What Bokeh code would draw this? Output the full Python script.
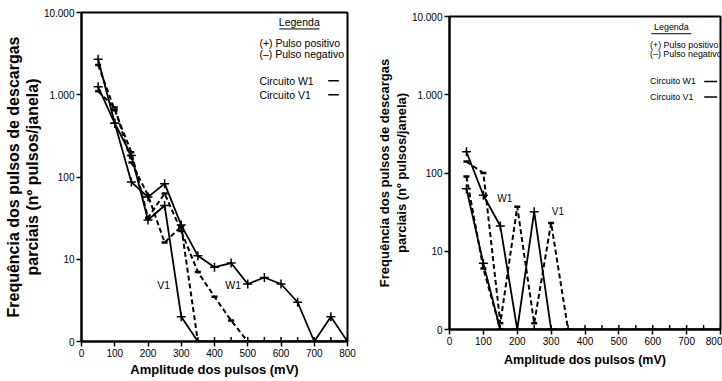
from bokeh.plotting import figure
from bokeh.models import FixedTicker, Label, Range1d
from bokeh.embed import file_html
from bokeh.resources import INLINE

FONT = "Liberation Sans"

# ---------------- data ----------------
amp = [50, 100, 150, 200, 250, 300, 350, 400, 450, 500, 550, 600, 650, 700, 750, 800]

# left panel
left_w1_pos_x = amp
left_w1_pos = [2700, 450, 87, 57, 83, 26, 11, 8, 9, 5, 6, 5, 3, 0, 2, 0]
left_v1_pos_x = amp
left_v1_pos = [1250, 450, 182, 30, 45, 2, 0, 0, 0, 0, 0, 0, 0, 0, 0, 0]
left_w1_neg_x = [50, 100, 150, 200, 250, 300, 350, 400, 450, 500]
left_w1_neg = [2300, 650, 200, 32, 63, 22, 7, 3.5, 1.8, 0]
left_v1_neg_x = [50, 100, 150, 200, 250, 300, 350]
left_v1_neg = [1100, 700, 150, 60, 16, 25, 0]

# right panel
right_w1_pos_x = [50, 100, 150, 200, 250, 300]
right_w1_pos = [187, 52, 21, 0, 32, 0]
right_v1_pos_x = amp
right_v1_pos = [63, 7, 0, 0, 0, 0, 0, 0, 0, 0, 0, 0, 0, 0, 0, 0]
right_w1_neg_x = [50, 100, 150, 200, 250, 300, 350]
right_w1_neg = [140, 100, 1.2, 37, 1.2, 23, 0]
right_v1_neg_x = [50, 100, 150]
right_v1_neg = [90, 6, 0]

x_ticks = [0, 100, 200, 300, 400, 500, 600, 700, 800]
y_ticks = [1, 10, 100, 1000, 10000]
y_tick_labels = ["0", "10", "100", "1.000", "10.000"]

x_title = "Amplitude dos pulsos (mV)"
y_title = "Frequência dos pulsos de descargas\nparciais (nº pulsos/janela)"
legend_title = "Legenda"
legend_lines = ["(+) Pulso positivo", "(–) Pulso negativo", "Circuito W1", "Circuito V1"]


def shown(vals):
    # a count of 0 is drawn on the bottom line of the log axis (label "0")
    return [v if v > 0 else 1 for v in vals]


def make_panel(width, height, mbl, mbr, mbt, mbb, ylab_size, xlab_size, tick_size,
               leg_size, leg, xlab_standoff):
    p = figure(width=width, height=height, y_axis_type="log",
               x_range=Range1d(0, 800), y_range=Range1d(1, 10000),
               output_backend="svg", toolbar_location=None,
               min_border_left=mbl, min_border_right=mbr,
               min_border_top=mbt, min_border_bottom=mbb)
    p.grid.visible = False
    p.outline_line_color = "black"
    p.outline_line_width = 2
    p.background_fill_color = "white"
    p.border_fill_color = "white"

    p.xaxis.ticker = FixedTicker(ticks=x_ticks)
    p.yaxis.ticker = FixedTicker(ticks=y_ticks)
    p.yaxis.major_label_overrides = {t: s for t, s in zip(y_ticks, y_tick_labels)}
    for ax in (p.xaxis, p.yaxis):
        ax.axis_line_width = 2
        ax.axis_line_color = "black"
        ax.major_tick_line_width = 1.5
        ax.major_tick_in = 0
        ax.major_tick_out = 5
        ax.minor_tick_line_color = None
        ax.major_label_text_font = FONT
        ax.major_label_text_font_size = tick_size
        ax.major_label_text_color = "black"
        ax.major_label_standoff = 2
        ax.axis_label_text_font = FONT
        ax.axis_label_text_font_style = "bold"
        ax.axis_label_text_color = "black"
        ax.axis_label_text_line_height = 1.1
    p.xaxis.axis_label = x_title
    p.xaxis.axis_label_text_font_size = xlab_size
    p.xaxis.axis_label_standoff = xlab_standoff
    p.yaxis.axis_label = y_title
    p.yaxis.axis_label_text_font_size = ylab_size
    p.yaxis.axis_label_standoff = 0

    # legend block (text only, as in the source figure)
    p.add_layout(Label(x=leg["title_x"], y=leg["title_y"], text=legend_title,
                       text_align="center", text_baseline="middle",
                       text_font=FONT, text_font_size=leg_size, text_color="black"))
    p.line(leg["ul_x"], [leg["ul_y"]] * 2, line_color="black", line_width=1)
    for t, yy in zip(legend_lines, leg["ys"]):
        p.add_layout(Label(x=leg["x"], y=yy, text=t, text_align="left",
                           text_baseline="middle", text_font=FONT,
                           text_font_size=leg_size, text_color="black"))
    p.line(leg["sample_x"], [leg["ys"][2]] * 2, line_color="black", line_width=1.5)
    p.line(leg["sample_x"], [leg["ys"][3]] * 2, line_color="black", line_width=1.5)
    return p


def add_series(p, xs, ys, positive):
    yv = shown(ys)
    if positive:
        p.line(xs, yv, line_color="black", line_width=1.8)
        p.scatter(xs, yv, marker="cross", size=9, line_color="black", line_width=1.5)
    else:
        p.line(xs, yv, line_color="black", line_width=2, line_dash="5 3")
        p.scatter(xs, yv, marker="dash", size=6, line_color="black", line_width=2.5)


left_leg = dict(title_x=655, title_y=7586, ul_x=[595, 716], ul_y=6310, x=535,
                ys=[4266, 3162, 1479, 1000], sample_x=[742, 774])
right_leg = dict(title_x=655, title_y=7244, ul_x=[596, 714], ul_y=6026, x=592,
                 ys=[4365, 3311, 1479, 933], sample_x=[752, 790])

# left panel: frame x 81..347, y 12..341
p1 = make_panel(374, 380, 81, 27, 12, 39, "16px", "13px", "10px", "10.5px", left_leg, 2)
add_series(p1, left_w1_pos_x, left_w1_pos, True)
add_series(p1, left_v1_pos_x, left_v1_pos, True)
add_series(p1, left_w1_neg_x, left_w1_neg, False)
add_series(p1, left_v1_neg_x, left_v1_neg, False)
for txt, lx, ly in [("V1", 247, 4.8), ("W1", 456, 4.8)]:
    p1.add_layout(Label(x=lx, y=ly, text=txt, text_align="center", text_baseline="middle",
                        text_font=FONT, text_font_size="10.5px", text_color="black"))

# right panel: frame x 442..720, y 16..329
p2 = make_panel(348, 380, 68, 2, 16, 51, "13px", "12.5px", "10px", "8.9px", right_leg, 5)
add_series(p2, right_w1_pos_x, right_w1_pos, True)
add_series(p2, right_v1_pos_x, right_v1_pos, True)
add_series(p2, right_w1_neg_x, right_w1_neg, False)
add_series(p2, right_v1_neg_x, right_v1_neg, False)
for txt, lx, ly in [("W1", 163, 47), ("V1", 320, 32)]:
    p2.add_layout(Label(x=lx, y=ly, text=txt, text_align="center", text_baseline="middle",
                        text_font=FONT, text_font_size="10px", text_color="black"))

# two independent roots laid out side by side (no shared frame alignment);
# bokeh prepends "{% extends base %}" to a string template itself
TEMPLATE = """{% block postamble %}<style>body { display: flex !important; flex-direction: row; align-items: flex-start; }</style>{% endblock %}"""

open("out.html", "w").write(file_html([p1, p2], INLINE, template=TEMPLATE))
